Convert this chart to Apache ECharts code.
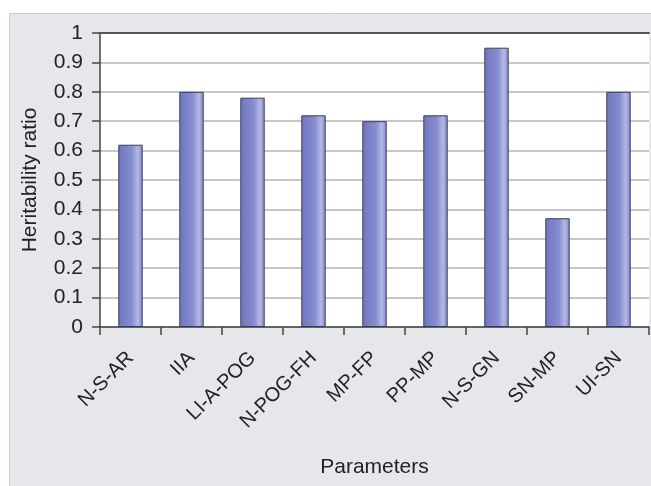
<!DOCTYPE html>
<html>
<head>
<meta charset="utf-8">
<script src="https://cdn.jsdelivr.net/npm/echarts@6/dist/echarts.min.js"></script>
<style>
  html, body { margin: 0; padding: 0; background: #ffffff; }
  #chart { width: 651px; height: 486px; }
</style>
</head>
<body>
<div id="chart"></div>
<script>
// Heritability ratio per cephalometric parameter
const categories = ['N-S-AR', 'IIA', 'LI-A-POG', 'N-POG-FH', 'MP-FP', 'PP-MP', 'N-S-GN', 'SN-MP', 'UI-SN'];
const heritability = [0.62, 0.80, 0.78, 0.72, 0.70, 0.72, 0.95, 0.37, 0.80];

const yMin = 0;
const yMax = 1;
const yStep = 0.1;

const chart = echarts.init(document.getElementById('chart'), null, { renderer: 'canvas' });

const font = 'Liberation Sans, Arial, sans-serif';

const barFill = new echarts.graphic.LinearGradient(0, 0, 1, 0, [
  { offset: 0, color: '#6f76bd' },
  { offset: 0.55, color: '#858ccf' },
  { offset: 0.8, color: '#b3b9e6' },
  { offset: 1, color: '#7f86c8' }
]);

chart.setOption({
  animation: false,
  backgroundColor: '#ffffff',
  graphic: [
    {
      type: 'rect',
      z: -10,
      shape: { x: 9.5, y: 13.5, width: 660, height: 500 },
      style: { fill: '#e5e7ea', stroke: '#c9cbce', lineWidth: 1 }
    }
  ],
  grid: {
    left: 100,
    top: 33,
    right: 2,
    bottom: 159,
    show: true,
    backgroundColor: '#ffffff',
    borderWidth: 0
  },
  xAxis: [
    {
      type: 'category',
      data: categories,
      boundaryGap: true,
      name: 'Parameters',
      nameLocation: 'middle',
      nameGap: 130,
      nameTextStyle: { fontFamily: font, fontSize: 21, color: '#222222' },
      axisLine: { show: true, lineStyle: { color: '#444444', width: 1.5 } },
      axisTick: { show: true, inside: false, length: 8, alignWithLabel: false, lineStyle: { color: '#444444', width: 1.5 } },
      axisLabel: {
        rotate: 45,
        margin: 28,
        interval: 0,
        fontFamily: font,
        fontSize: 20,
        color: '#222222'
      },
      splitLine: { show: false }
    },
    {
      // dark rule along the top of the plot
      type: 'category',
      data: categories,
      position: 'top',
      axisLine: { show: true, lineStyle: { color: '#555555', width: 2 } },
      axisTick: { show: false },
      axisLabel: { show: false },
      splitLine: { show: false }
    }
  ],
  yAxis: {
    type: 'value',
    min: yMin,
    max: yMax,
    interval: yStep,
    name: 'Heritability ratio',
    nameLocation: 'middle',
    nameGap: 59,
    nameTextStyle: { fontFamily: font, fontSize: 21, color: '#222222' },
    axisLine: { show: true, lineStyle: { color: '#444444', width: 1.5 } },
    axisTick: { show: true, inside: false, length: 8, lineStyle: { color: '#444444', width: 1.5 } },
    axisLabel: {
      margin: 17,
      fontFamily: font,
      fontSize: 21,
      color: '#222222',
      formatter: v => String(Math.round(v * 10) / 10)
    },
    splitLine: { show: true, lineStyle: { color: '#b4b4b4', width: 1.5 } }
  },
  series: [
    {
      type: 'bar',
      data: heritability,
      barWidth: '40%',
      itemStyle: {
        color: barFill,
        borderColor: '#3b3d55',
        borderWidth: 1
      }
    }
  ]
});
</script>
</body>
</html>
